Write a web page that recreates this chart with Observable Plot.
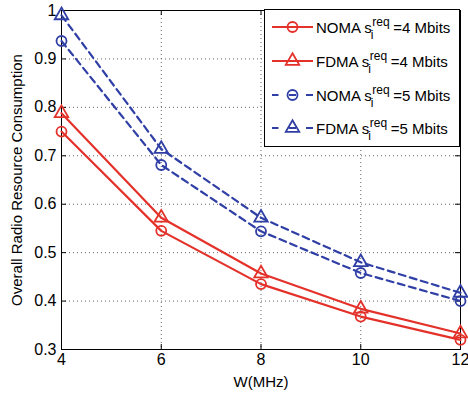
<!DOCTYPE html>
<html><head><meta charset="utf-8">
<script src="https://cdn.jsdelivr.net/npm/d3@7"></script>
<script src="https://cdn.jsdelivr.net/npm/@observablehq/plot@0.6"></script>
<style>
body{margin:0;background:#fff}
#chart{position:relative;width:468px;height:395px}
</style>
</head><body><div id="chart"></div>
<script>
// ---- data ----
const bandwidth = [4, 6, 8, 10, 12];
const noma4 = [0.750, 0.545, 0.435, 0.368, 0.320];
const fdma4 = [0.788, 0.572, 0.457, 0.384, 0.333];
const noma5 = [0.937, 0.681, 0.544, 0.458, 0.400];
const fdma5 = [0.990, 0.714, 0.572, 0.480, 0.417];
const schemeNames = ["NOMA", "FDMA", "NOMA", "FDMA"];
const rateLabels = ["4", "4", "5", "5"];
const xTicks = [4, 6, 8, 10, 12];
const xTickLabels = ["4", "6", "8", "10", "12"];
const yTicks = [0.3, 0.4, 0.5, 0.6, 0.7, 0.8, 0.9, 1];
const yTickLabels = ["0.3", "0.4", "0.5", "0.6", "0.7", "0.8", "0.9", "1"];
const xLabel = "W(MHz)";
const yLabel = "Overall Radio Resource Consumption";

// ---- styles ----
const RED = "#e4322b", BLUE = "#2f3fa5";
const seriesValues = [noma4, fdma4, noma5, fdma5];
const seriesStyle = [
  {stroke: RED, dash: null, symbol: "circle"},
  {stroke: RED, dash: null, symbol: "triangle"},
  {stroke: BLUE, dash: "7,4.5", symbol: "circle"},
  {stroke: BLUE, dash: "7,4.5", symbol: "triangle"}
];
const series = seriesValues.map((vals, s) => bandwidth.map((w, i) => ({w, v: vals[i], s})));

const W = 468, H = 395, mL = 61, mR = 8, mT = 10, mB = 46;
const fw = W - mL - mR, fh = H - mT - mB, tk = 5;

const marks = [
  Plot.gridX(xTicks.slice(1, -1), {stroke: "#666", strokeOpacity: 1, strokeWidth: 1, strokeDasharray: "1,3"}),
  Plot.gridY(yTicks.slice(1, -1), {stroke: "#666", strokeOpacity: 1, strokeWidth: 1, strokeDasharray: "1,3"}),
  // inward ticks (all four sides)
  Plot.tickX(xTicks, {x: d => d, stroke: "#000", insetTop: fh - tk}),
  Plot.tickX(xTicks, {x: d => d, stroke: "#000", insetBottom: fh - tk}),
  Plot.tickY(yTicks, {y: d => d, stroke: "#000", insetRight: fw - tk}),
  Plot.tickY(yTicks, {y: d => d, stroke: "#000", insetLeft: fw - tk}),
  Plot.axisX(xTicks, {tickSize: 0, tickPadding: 4, fontSize: 16, label: null,
    tickFormat: d => xTickLabels[xTicks.indexOf(d)]}),
  Plot.axisY(yTicks, {tickSize: 0, tickPadding: 5, fontSize: 16, label: null,
    tickFormat: d => yTickLabels[yTicks.indexOf(d)]}),
  Plot.text([xLabel], {frameAnchor: "bottom", dy: 37, fontSize: 15, textAnchor: "middle", text: d => d}),
  Plot.text([yLabel], {frameAnchor: "left", dx: -44, rotate: -90, fontSize: 15, textAnchor: "middle", text: d => d}),
  Plot.frame({stroke: "#000", strokeWidth: 1})
];
series.forEach((rows, s) => {
  const st = seriesStyle[s];
  marks.push(Plot.line(rows, {x: "w", y: "v", stroke: st.stroke, strokeWidth: 2.2, strokeDasharray: st.dash}));
});
series.forEach((rows, s) => {
  const st = seriesStyle[s];
  marks.push(Plot.dot(rows, {x: "w", y: "v", symbol: st.symbol, r: st.symbol === "circle" ? 5 : 5,
    stroke: st.stroke, strokeWidth: 1.8, fill: "none"}));
});

const svg = Plot.plot({
  width: W, height: H, marginLeft: mL, marginRight: mR, marginTop: mT, marginBottom: mB,
  x: {domain: [4, 12]},
  y: {domain: [0.3, 1]},
  style: {fontFamily: "'Liberation Sans', Arial, Helvetica, sans-serif", color: "#000", background: "#fff", overflow: "visible"},
  marks
});
document.getElementById("chart").appendChild(svg);

// ---- legend ----
const g = d3.select(svg).append("g").attr("font-family", "'Liberation Sans', Arial, sans-serif")
  .attr("fill", "#000").attr("text-anchor", "start");
g.append("rect").attr("x", 264.5).attr("y", 9.5).attr("width", 195).attr("height", 137)
  .attr("fill", "#fff").attr("stroke", "#000").attr("stroke-width", 1);
const rowY = [27, 61, 95, 128];
const lx0 = 272, lx1 = 313, mx = 292.5, tx = 316;
seriesStyle.forEach((st, i) => {
  const cy = rowY[i];
  g.append("line").attr("x1", lx0).attr("x2", lx1).attr("y1", cy).attr("y2", cy)
    .attr("stroke", st.stroke).attr("stroke-width", 2.2)
    .attr("stroke-dasharray", st.dash ? "6.5,10.5,7,10,7" : null);
  if (st.symbol === "circle") {
    g.append("circle").attr("cx", mx).attr("cy", cy).attr("r", 5).attr("fill", "none")
      .attr("stroke", st.stroke).attr("stroke-width", 1.8);
  } else {
    g.append("path").attr("transform", `translate(${mx},${cy})`)
      .attr("d", d3.symbol(d3.symbolTriangle, Math.PI * 5 * 5)())
      .attr("fill", "none").attr("stroke", st.stroke).attr("stroke-width", 1.8);
  }
  const base = cy + 5.5;
  const t1 = g.append("text").attr("x", tx).attr("y", base).attr("font-size", 15).text(`${schemeNames[i]} s`);
  const w1 = t1.node().getComputedTextLength();
  const t2 = g.append("text").attr("x", tx + w1 + 0.5).attr("y", base - 7).attr("font-size", 12).text("req");
  const w2 = t2.node().getComputedTextLength();
  g.append("text").attr("x", tx + w1 - 1).attr("y", base + 6.5).attr("font-size", 12).text("i");
  g.append("text").attr("x", tx + w1 + w2 + 4).attr("y", base).attr("font-size", 15).text(`=${rateLabels[i]} Mbits`);
});
</script>
</body></html>
